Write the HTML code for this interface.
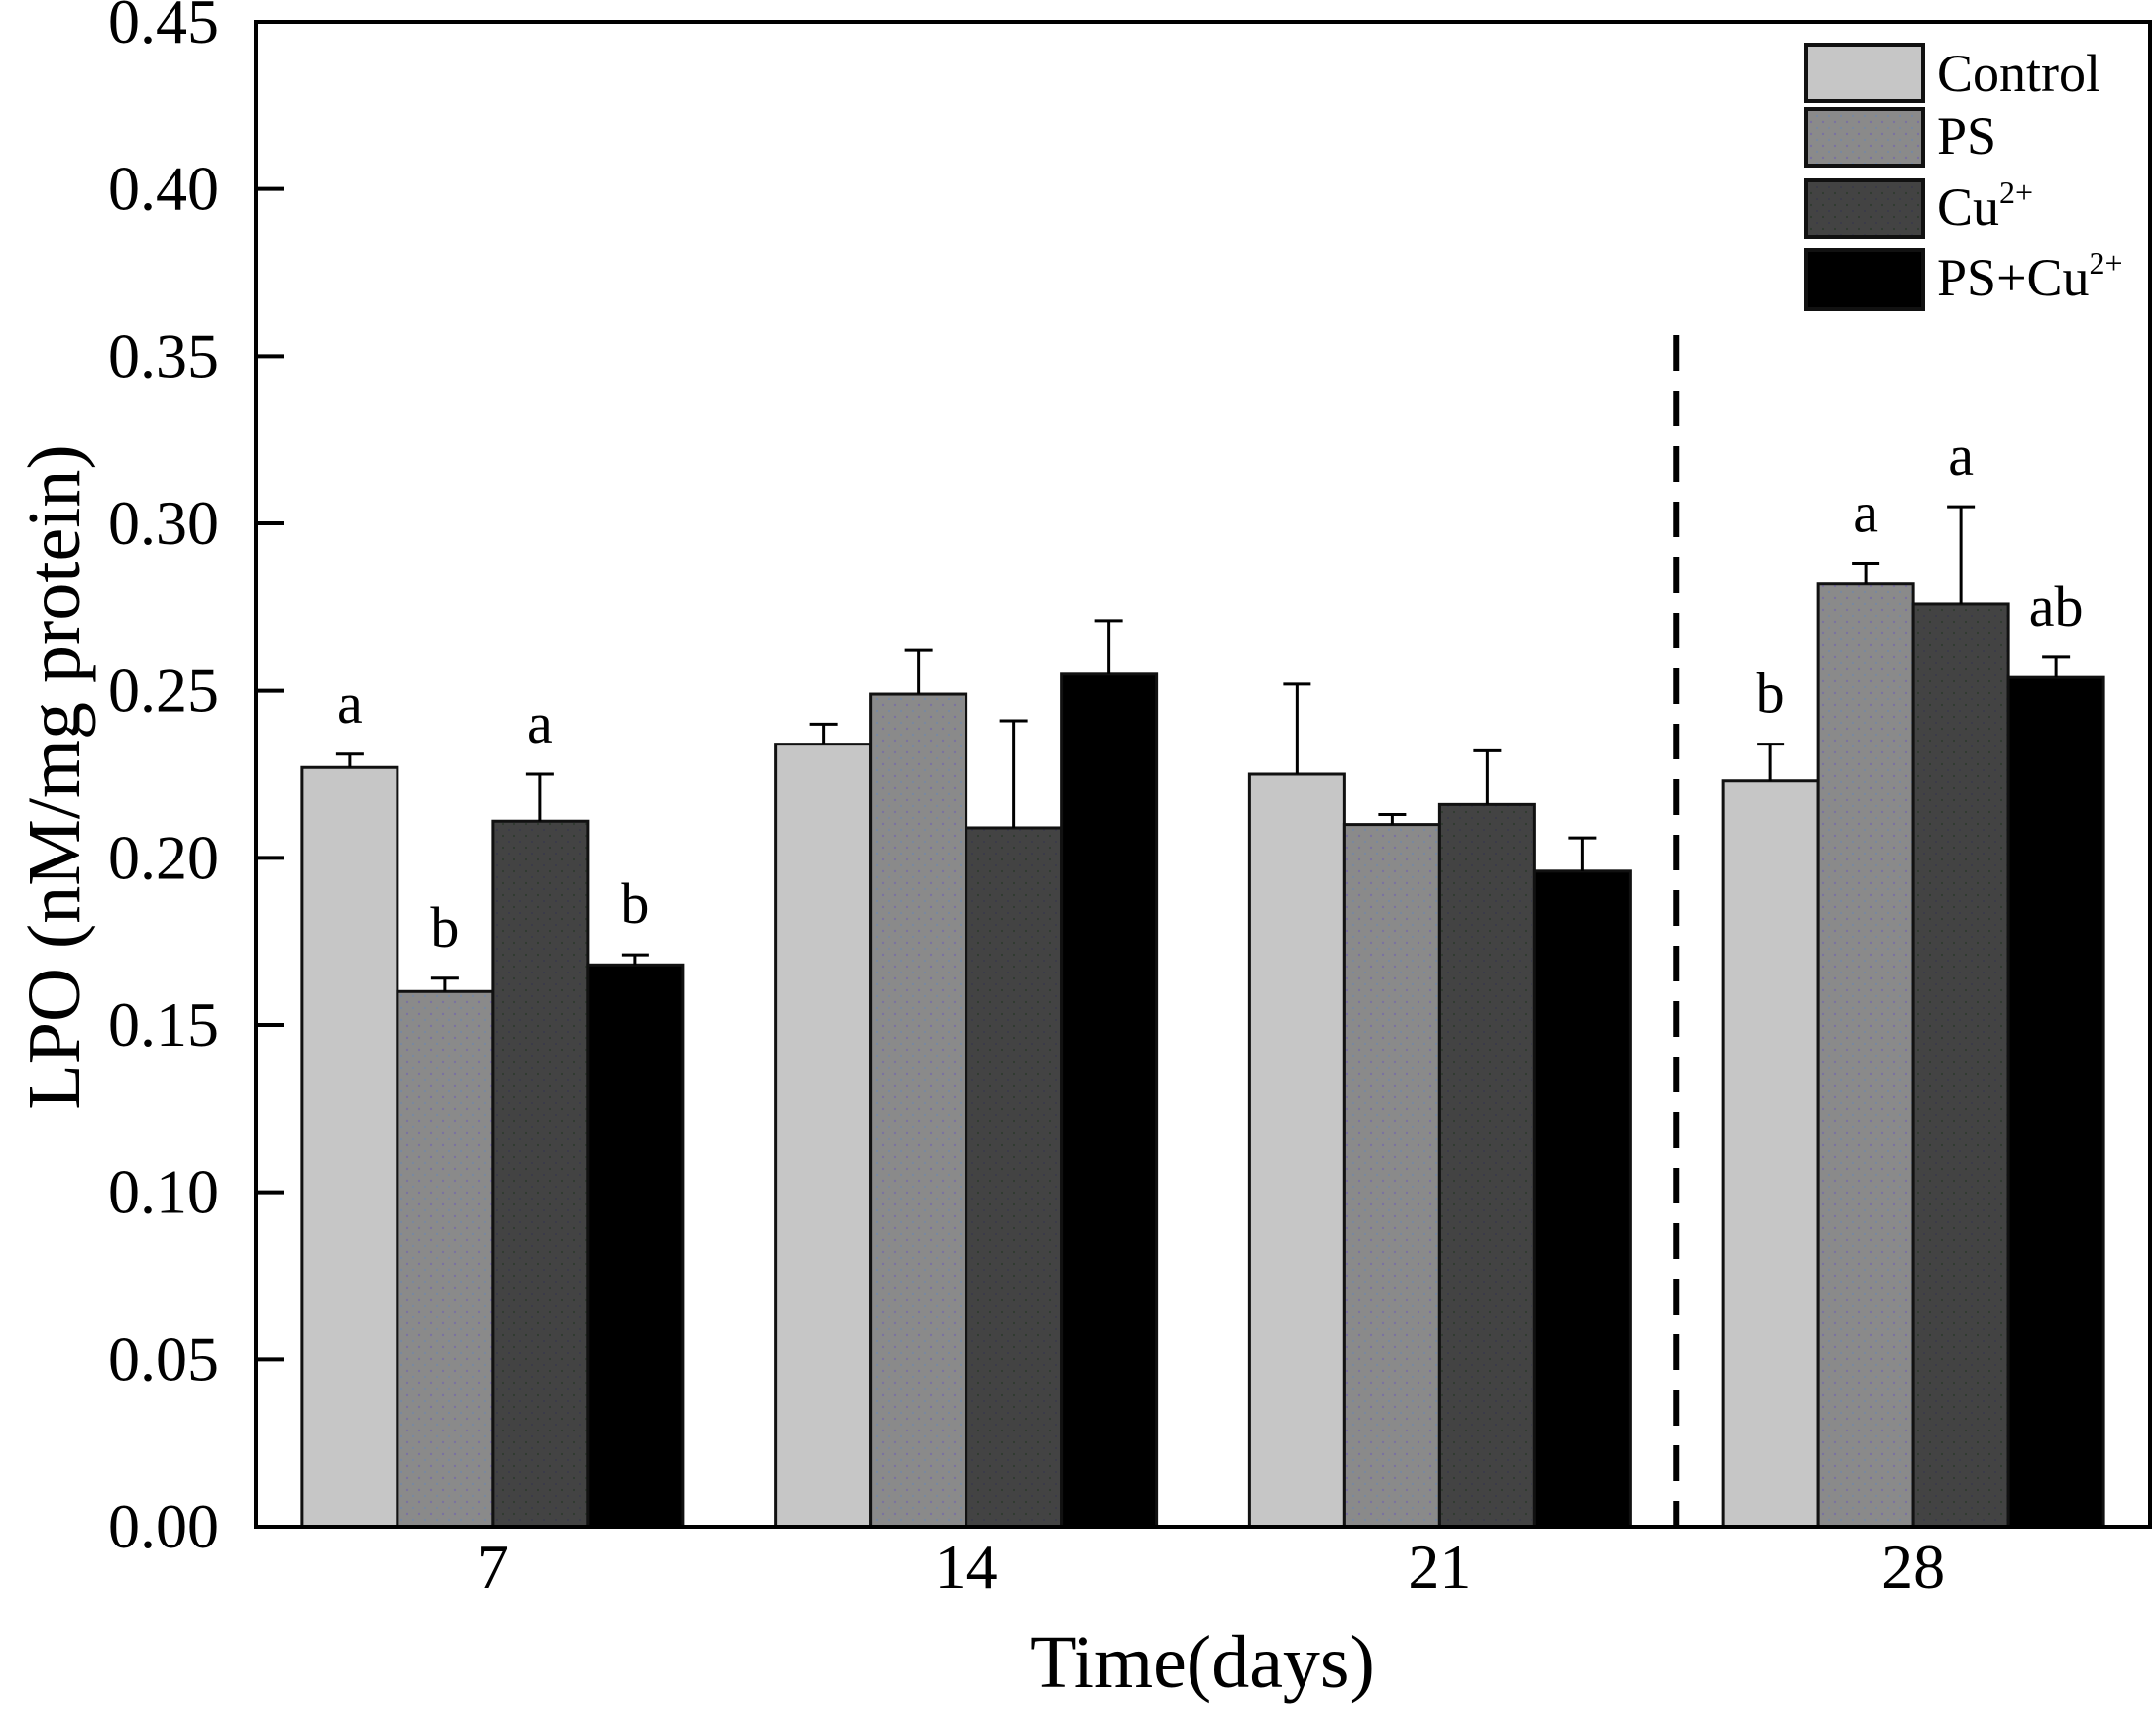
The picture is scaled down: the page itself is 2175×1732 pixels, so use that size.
<!DOCTYPE html>
<html><head><meta charset="utf-8"><style>
body{margin:0;background:#fff}
svg text{font-family:"Liberation Serif",serif;fill:#000}
</style></head><body>
<svg id="chart" width="2175" height="1727" xmlns="http://www.w3.org/2000/svg">
<defs>
<pattern id="dotsPS" width="12" height="12" patternUnits="userSpaceOnUse"><rect width="12" height="12" fill="#8a8a8a"/><circle cx="3" cy="3" r="1.2" fill="#7a72a0"/><circle cx="9" cy="9" r="1.2" fill="#7888a0"/></pattern>
<pattern id="dotsCu" width="12" height="12" patternUnits="userSpaceOnUse"><rect width="12" height="12" fill="#434343"/><circle cx="3" cy="3" r="1.1" fill="#2f3a2f"/><circle cx="9" cy="9" r="1.1" fill="#3a3a48"/></pattern>
</defs>
<g id="plot"></g>
</svg>
<script>
const categories = ["7","14","21","28"];
const seriesNames = ["Control","PS","Cu2+","PS+Cu2+"];
const controlVals = [0.227,0.234,0.225,0.223];
const psVals = [0.160,0.249,0.210,0.282];
const cuVals = [0.211,0.209,0.216,0.276];
const pscuVals = [0.168,0.255,0.196,0.254];
const controlErr = [0.004,0.006,0.027,0.011];
const psErr = [0.004,0.013,0.003,0.006];
const cuErr = [0.014,0.032,0.016,0.029];
const pscuErr = [0.003,0.016,0.010,0.006];
const sigLetters = [["a","b","a","b"],["","","",""],["","","",""],["b","a","a","ab"]];
const yTicks = [0,0.05,0.10,0.15,0.20,0.25,0.30,0.35,0.40,0.45];

const NS="http://www.w3.org/2000/svg";
const L=258,R=2169,T=22,B=1540,YMAX=0.45;
const y=v=>B-v/YMAX*(B-T);
const step=(R-L)/categories.length;
const cx=i=>L+step*(i+0.5);
const BW=96;
const fills=["#c6c6c6","url(#dotsPS)","url(#dotsCu)","#000"];
const vals=[controlVals,psVals,cuVals,pscuVals];
const errs=[controlErr,psErr,cuErr,pscuErr];
const g=document.getElementById('plot');
function mk(tag,attrs,parent){const e=document.createElementNS(NS,tag);for(const k in attrs)e.setAttribute(k,attrs[k]);(parent||g).appendChild(e);return e;}

// bars
categories.forEach((c,i)=>{
  for(let j=0;j<4;j++){
    const x0=cx(i)-2*BW+j*BW, v=vals[j][i], e=errs[j][i];
    const r=mk('rect',{x:x0,y:y(v),width:BW,height:B-y(v),fill:fills[j],stroke:'#111','stroke-width':3});
    
    
    const xm=x0+BW/2;
    const el=mk('path',{d:`M${xm},${y(v)}V${y(v+e)}M${xm-14},${y(v+e)}H${xm+14}`,stroke:'#000','stroke-width':3,fill:'none'});
    
    
    const lt=sigLetters[i][j];
    if(lt){const t=mk('text',{x:xm,y:y(v+e)-32,'font-size':58,'text-anchor':'middle'});t.textContent=lt;
      
      }
  }
  const tl=mk('text',{x:cx(i),y:1602,'font-size':64,'text-anchor':'middle'});tl.textContent=c;
  
  
});
// dashed line
const dl=mk('line',{x1:(cx(2)+cx(3))/2,x2:(cx(2)+cx(3))/2,y1:338,y2:B,stroke:'#000','stroke-width':6,'stroke-dasharray':'36 20'});


// y ticks
yTicks.forEach(v=>{
  const tk=mk('line',{x1:L,x2:L+28,y1:y(v),y2:y(v),stroke:'#000','stroke-width':4});
  
  
  const t=mk('text',{x:221,y:y(v)+21,'font-size':64,'text-anchor':'end'});t.textContent=v.toFixed(2);
  
  
});
// frame
const fr=mk('rect',{x:L,y:T,width:R-L,height:B-T,fill:'none',stroke:'#000','stroke-width':4});


// titles
const xt=mk('text',{x:1213,y:1702,'font-size':76,'text-anchor':'middle'});xt.textContent='Time(days)';


const yt=mk('text',{x:0,y:0,'font-size':76,'text-anchor':'middle',transform:'translate(80,784) rotate(-90)'});yt.textContent='LPO (nM/mg protein)';


// legend
const lgY=[45,110,182,252],lgH=[57,57,57,60],lgB=[92,155,227,298];
const lgLabels=[["Control",""],["PS",""],["Cu","2+"],["PS+Cu","2+"]];
for(let j=0;j<4;j++){
  const sw=mk('rect',{x:1822,y:lgY[j],width:118,height:lgH[j],fill:fills[j],stroke:'#111','stroke-width':4});
  
  
  const t=mk('text',{x:1954,y:lgB[j],'font-size':54});
  
  
  t.appendChild(document.createTextNode(lgLabels[j][0]));
  if(lgLabels[j][1]){const s=document.createElementNS(NS,'tspan');s.setAttribute('dy','-22');s.setAttribute('font-size','32');s.textContent=lgLabels[j][1];t.appendChild(s);}
}
</script>
</body></html>
